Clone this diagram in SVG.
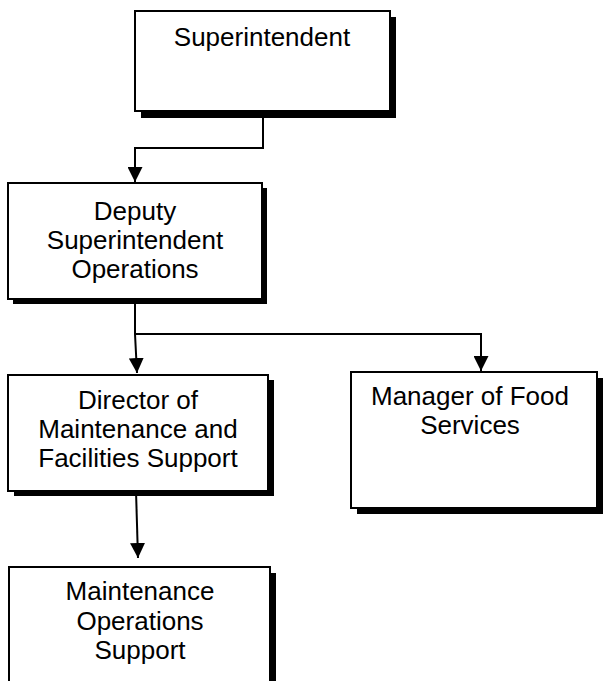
<svg xmlns="http://www.w3.org/2000/svg" width="603" height="681" viewBox="0 0 603 681">
  <style>
    .box { fill: #fff; stroke: #000; stroke-width: 2; }
    .shadow { fill: #000; }
    .label { font-family: "Liberation Sans", Arial, sans-serif; font-size: 26px; fill: #000; text-anchor: middle; }
    .conn { fill: none; stroke: #000; stroke-width: 2; }
  </style>
  <defs>
    <marker id="arrow" viewBox="0 0 15 15" refX="15" refY="7.5" markerWidth="15" markerHeight="15" markerUnits="userSpaceOnUse" orient="auto">
      <path d="M0,0 L15,7.5 L0,15 Z" fill="#000"/>
    </marker>
  </defs>
  <rect width="603" height="681" fill="#fff"/>

  <!-- reporting lines -->
  <g id="connectors">
    <path class="conn" d="M263,111 V148 H135 V182" marker-end="url(#arrow)"/>
    <path class="conn" d="M135,299 V334 L137,373" marker-end="url(#arrow)"/>
    <path class="conn" d="M135,334 H481 V371" marker-end="url(#arrow)"/>
    <path class="conn" d="M136,491 L138,558" marker-end="url(#arrow)"/>
  </g>

  <g id="superintendent">
    <rect class="shadow" x="141" y="17" width="255" height="101"/>
    <rect class="box" x="135" y="11" width="255" height="100"/>
    <text class="label" x="262" y="46">Superintendent</text>
  </g>

  <g id="deputy-superintendent">
    <rect class="shadow" x="13" y="188" width="254" height="116"/>
    <rect class="box" x="8" y="183" width="254" height="116"/>
    <text class="label" x="135" y="220">Deputy</text>
    <text class="label" x="135" y="249">Superintendent</text>
    <text class="label" x="135" y="278">Operations</text>
  </g>

  <g id="director-maintenance">
    <rect class="shadow" x="14" y="380" width="260" height="116"/>
    <rect class="box" x="8" y="375" width="260" height="116"/>
    <text class="label" x="138" y="409">Director of</text>
    <text class="label" x="138" y="438">Maintenance and</text>
    <text class="label" x="138" y="467">Facilities Support</text>
  </g>

  <g id="manager-food-services">
    <rect class="shadow" x="357" y="378" width="246" height="136"/>
    <rect class="box" x="351" y="372" width="246" height="136"/>
    <text class="label" x="470" y="405">Manager of Food</text>
    <text class="label" x="470" y="434">Services</text>
  </g>

  <g id="maintenance-operations">
    <rect class="shadow" x="15" y="573" width="261" height="120"/>
    <rect class="box" x="9" y="567" width="261" height="120"/>
    <text class="label" x="140" y="600">Maintenance</text>
    <text class="label" x="140" y="630">Operations</text>
    <text class="label" x="140" y="659">Support</text>
  </g>
</svg>
